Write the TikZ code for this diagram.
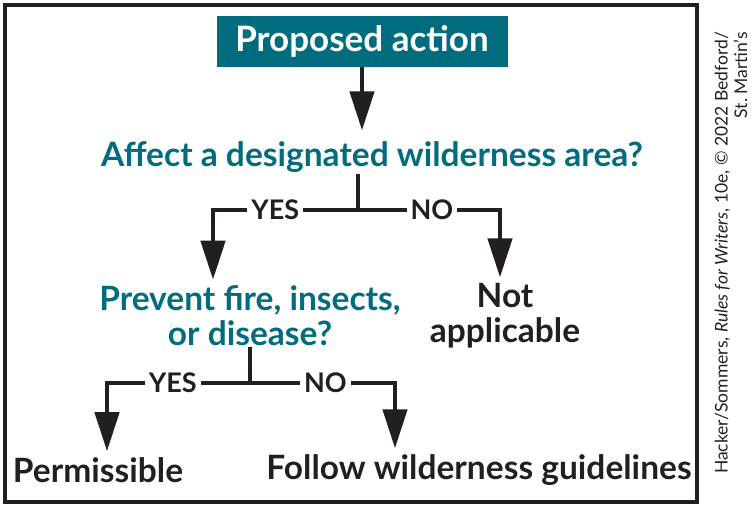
\documentclass[tikz,border=0pt]{standalone}
\usepackage{fontspec}
\setmainfont{Lato}
\usetikzlibrary{arrows.meta}
\definecolor{teal}{HTML}{006C7D}
\definecolor{ink}{HTML}{231F20}

\begin{document}
\begin{tikzpicture}[x=1pt,y=-1pt,
    box/.style={fill=teal, text=white, font=\fontsize{35}{38}\selectfont\bfseries, minimum width=291pt, minimum height=51pt, inner sep=0pt},
    ques/.style={text=teal, font=\fontsize{33.5}{35}\selectfont\bfseries, align=center, inner sep=1pt},
    answer/.style={text=ink, font=\fontsize{33.5}{35}\selectfont\bfseries, align=center, inner sep=1pt},
    lbl/.style={fill=white, text=ink, font=\fontsize{27}{27}\selectfont\bfseries, inner sep=4pt},
    line/.style={draw=ink, line width=4.5pt},
    arr/.style={line, -{Triangle[length=39pt,width=24pt]}}]
			\useasboundingbox (0,0) rectangle (754,507);
			\draw[draw=ink, line width=4pt] (5,5) rectangle (697,502); % Outer frame
			
			\node[box] (prop) at (362,41) {Proposed action}; % Start box
			\node[ques] (affect) at (372,157) {Affect a designated wilderness area?}; % First question
			\coordinate (fork1) at (358,210); % Split under first question
			\coordinate (yes1) at (213,210);
			\coordinate (no1) at (500,210);
			
			\node[ques] (prevent) at (250,316) {Prevent fire, insects,\\or disease?}; % Second question
			\node[answer] (notapp) at (505,316) {Not\\applicable}; % Answer for NO
			\coordinate (fork2) at (250,383); % Split under second question
			\coordinate (yes2) at (107,383);
			\coordinate (no2) at (395,383);
			
			\node[answer] (perm) at (98,470) {Permissible}; % Answer for YES
			\node[answer] (follow) at (479,470) {Follow wilderness guidelines}; % Answer for NO
			
			\draw[arr, shorten >=10pt] (prop.south) -- (prop.south |- affect.north); % Arrow to first question
			\draw[line] (affect.south -| fork1) -- (fork1);
			\draw[arr, shorten >=5pt] (fork1) -- node[lbl, pos=0.57] {YES} (yes1) -- (yes1 |- prevent.north);
			\draw[arr, shorten >=5pt] (fork1) -- node[lbl, pos=0.52] {NO} (no1) -- (no1 |- notapp.north);
			
			\draw[line] (prevent.south) -- (fork2);
			\draw[arr, shorten >=5pt] (fork2) -- node[lbl, pos=0.54] {YES} (yes2) -- (yes2 |- perm.north);
			\draw[arr, shorten >=5pt] (fork2) -- node[lbl, pos=0.52] {NO} (no2) -- (no2 |- follow.north);
			
			\node[rotate=90, align=right, text=ink, font=\fontsize{17.5}{19.5}\selectfont] (credit) at (731,253) {Hacker/Sommers, \textit{Rules for Writers}, 10e, \textcopyright{} 2022 Bedford/\\St.~Martin's}; % Credit line
		\end{tikzpicture}
\end{document}
